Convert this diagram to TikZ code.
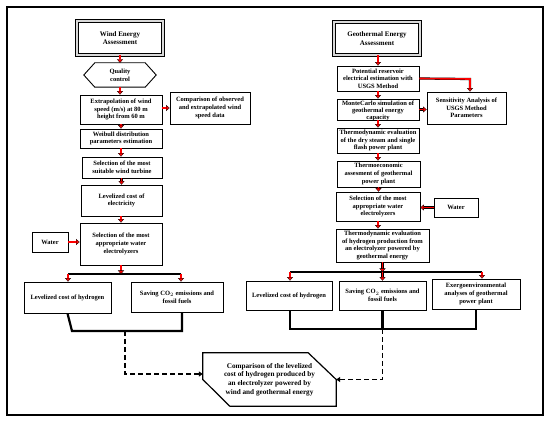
\documentclass[tikz,border=0pt]{standalone}
\usepackage{fontspec}
\setmainfont{Liberation Serif}
\usetikzlibrary{arrows.meta,calc}
\begin{document}
\begin{tikzpicture}[x=1pt,y=-1pt,
  every node/.style={font=\bfseries\fontsize{6.5}{7.7}\selectfont, align=center, inner sep=0pt},
  box/.style={draw=black, line width=0.9pt},
  titlebox/.style={draw=black, line width=0.8pt, double=gray!30, double distance=1.6pt,
    font=\bfseries\fontsize{7}{8.6}\selectfont},
  rarr/.style={draw=black, line width=0.3pt, double=red, double distance=1.6pt,
    -{Triangle[length=3.5pt, width=6pt, color=black, fill=red, line width=0.3pt]}},
  bus/.style={draw=black, line width=2.2pt, line join=miter},
  dsh/.style={draw=black, line width=1.5pt, dash pattern=on 5pt off 3pt,
    -{Triangle[length=4pt, width=5pt]}},
]
\useasboundingbox (0,0) rectangle (550,422);
\draw[line width=1.3pt] (7,7) rectangle (543,415);

% ---------------- wind column ----------------
\node[titlebox, minimum width=86, minimum height=34] (wind) at (120,38) {Wind Energy\\Assessment};
\node[minimum width=50, minimum height=24] (qc) at (120,75) {Quality\\control};
\draw[box] (qc.north west) -- (qc.north east) -- ([xshift=11pt]qc.east) -- (qc.south east)
  -- (qc.south west) -- ([xshift=-11pt]qc.west) -- cycle;
\node[box, minimum width=82, minimum height=29] (ext) at (121,109.5) {Extrapolation of wind\\speed (m/s) at 80 m\\height from 60 m};
\node[box, minimum width=80, minimum height=32] (cmpd) at (210,108) {Comparison of observed\\and extrapolated wind\\speed data};
\node[box, minimum width=82, minimum height=19] (weib) at (121,138.5) {Weibull distribution\\parameters estimation};
\node[box, minimum width=80, minimum height=21] (turb) at (122,167.5) {Selection of the most\\suitable wind turbine};
\node[box, minimum width=81, minimum height=31] (lcoe) at (121.5,200.5) {Levelized cost of\\electricity};
\node[box, minimum width=82, minimum height=42] (wsel) at (121,244) {Selection of the most\\appropriate water\\electrolyzers};
\node[box, minimum width=36, minimum height=20] (wwat) at (50,242) {Water};
\node[box, minimum width=87, minimum height=31] (wl) at (67.5,297.5) {Levelized cost of hydrogen};
\node[box, minimum width=92, minimum height=30] (ws) at (177,297) {Saving CO$_2$ emissions and\\fossil fuels};

\coordinate (wt) at (121,274);
\coordinate (wtl) at (68,274);
\coordinate (wtr) at (181,274);
\coordinate (wbl) at (72,331);
\coordinate (wbr) at (182,331);
\coordinate (wj) at (125,331);

\draw[rarr] (wind.south) -- (qc.north);
\draw[rarr] (qc.south) -- (qc.south |- ext.north);
\draw[rarr] (ext.south) -- (weib.north);
\draw[rarr] (weib.south) -- (weib.south |- turb.north);
\draw[rarr] (turb.south -| lcoe.north) -- (lcoe.north);
\draw[rarr] (lcoe.south -| wsel.north) -- (wsel.north);
\draw[rarr] (ext.east |- cmpd.west) -- (cmpd.west);
\draw[rarr] (wwat.east) -- (wwat.east -| wsel.west);
\draw[bus] (wtl) -- (wtr);
\draw[rarr] (wsel.south) -- (wt);
\draw[rarr] (wtl) -- (wtl |- wl.north);
\draw[rarr] (wtr) -- (wtr |- ws.north);
\draw[bus] (wl.south) -- (wbl) -- (wbr) -- (wbr |- ws.south);

% ---------------- geothermal column ----------------
\node[titlebox, minimum width=86, minimum height=33] (geo) at (377,38.5) {Geothermal Energy\\Assessment};
\node[box, minimum width=82, minimum height=25] (pot) at (378,78.5) {Potential reservoir\\electrical estimation with\\USGS Method};
\node[box, minimum width=82, minimum height=21] (mc) at (378,109.5) {};
\node[font=\bfseries\fontsize{6.5}{7.2}\selectfont] (mct) at (378,111) {MonteCarlo simulation of\\geothermal energy\\capacity};
\node[box, minimum width=79, minimum height=32] (sens) at (466.5,108) {Sensitivity Analysis of\\USGS Method\\Parameters};
\node[box, minimum width=82, minimum height=25] (thd) at (378,140.5) {Thermodynamic evaluation\\of the dry steam and single\\flash power plant};
\node[box, minimum width=83, minimum height=26] (thec) at (378.5,174) {Thermoeconomic\\assesment of geothermal\\power plant};
\node[box, minimum width=84, minimum height=29] (gsel) at (378,206.5) {Selection of the most\\appropriate water\\electrolyzers};
\node[box, minimum width=44, minimum height=19] (gwat) at (456,207.5) {Water};
\node[box, minimum width=93, minimum height=33] (thh) at (382.5,245.5) {Thermodynamic evaluation\\of hydrogen production from\\an electrolyzer powered by\\geothermal energy};
\node[box, minimum width=86, minimum height=29] (gl) at (289,295.5) {Levelized cost of hydrogen};
\node[box, minimum width=87, minimum height=29] (gs) at (382.5,295.5) {Saving CO$_2$ emissions and\\fossil fuels};
\node[box, minimum width=88, minimum height=30] (ge) at (476,294) {Exergoenvironmental\\analyses of geothermal\\power plant};

\coordinate (sj) at (470,79);
\coordinate (gt) at (382.5,272);
\coordinate (gtl) at (290,272);
\coordinate (gtr) at (482,272);
\coordinate (gbl) at (290,329);
\coordinate (gbr) at (476,329);
\coordinate (gj) at (382.5,329);

\draw[rarr] (geo.south -| pot.north) -- (pot.north);
\draw[rarr] (pot.south) -- (mc.north);
\draw[rarr] (mc.south) -- (thd.north);
\draw[rarr] (thd.south) -- (thd.south |- thec.north);
\draw[rarr] (thec.south) -- (thec.south |- gsel.north);
\draw[rarr] (gsel.south) -- (gsel.south |- thh.north);
\draw[rarr] (pot.east) -- (sj) -- (sj |- sens.north);
\draw[rarr] (mc.east) -- (mc.east -| sens.west);
\draw[rarr] (gwat.west) -- (gwat.west -| gsel.east);
\draw[bus] (gtl) -- (gtr);
\draw[rarr] (thh.south) -- (gt);
\draw[rarr] (gtl) -- (gtl |- gl.north);
\draw[rarr] (gt) -- (gs.north);
\draw[rarr] (gtr) -- (gtr |- ge.north);
\draw[bus] (gl.south -| gbl) -- (gbl) -- (gbr) -- (ge.south);
\draw[bus] (gs.south) -- (gj);

% ---------------- comparison ----------------
\node[minimum width=133, minimum height=53, font=\bfseries\fontsize{7.2}{8.7}\selectfont] (cmp) at (269.5,379.5)
  {Comparison of the levelized\\cost of hydrogen produced by\\an electrolyzer powered by\\wind and geothermal energy};
\draw[line width=1.2pt, line join=miter] (cmp.north west) -- ([xshift=-28pt]cmp.north east) -- (cmp.east)
  -- (cmp.south east) -- ([xshift=27pt]cmp.south west) -- (cmp.west) -- cycle;

\draw[dsh] (wj) |- ([yshift=5.5pt]cmp.west);
\draw[dsh] (gj) |- (cmp.east);
\end{tikzpicture}
\end{document}
